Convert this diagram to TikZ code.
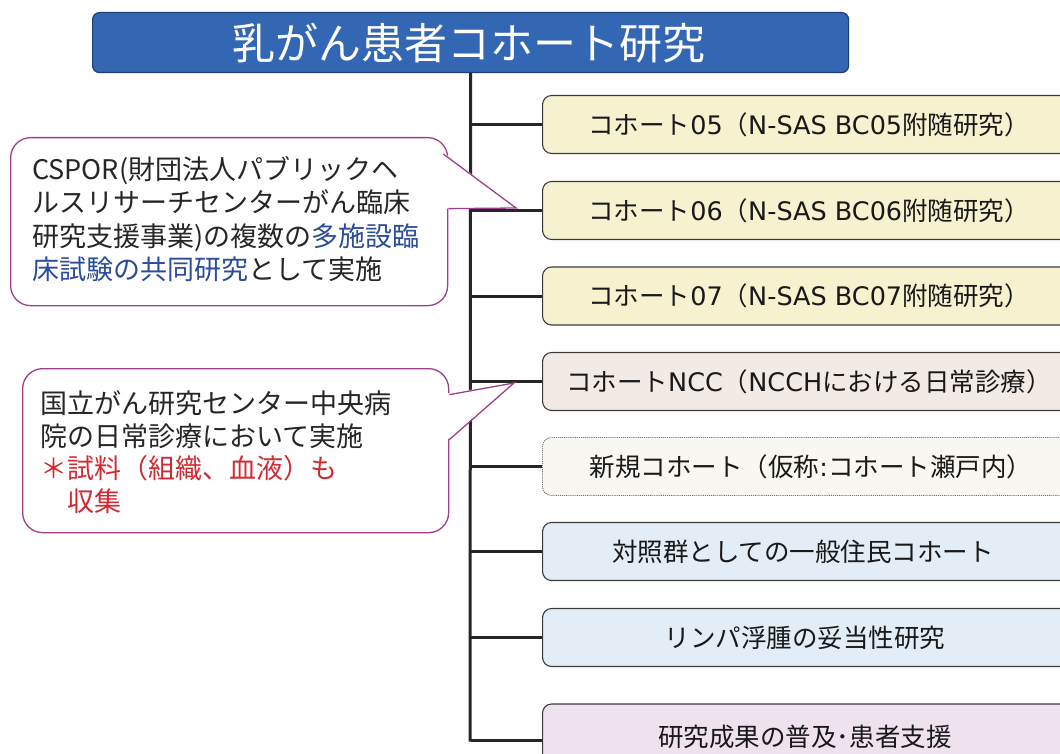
\documentclass[tikz,border=0pt]{standalone}
\usepackage{fontspec}
\setmainfont{Noto Sans CJK JP}
\newfontfamily\lat{DejaVu Sans}
\usetikzlibrary{calc}
\definecolor{titleblue}{HTML}{3467B3}
\definecolor{titleedge}{HTML}{1E3C78}
\definecolor{cyellow}{HTML}{F6F2CF}
\definecolor{cpink}{HTML}{F2EAE5}
\definecolor{cwhite}{HTML}{F8F7F1}
\definecolor{cblue}{HTML}{E2EDF5}
\definecolor{cpurple}{HTML}{EEE2EE}
\definecolor{boxedge}{HTML}{3A3A3A}
\definecolor{calloutedge}{HTML}{9E3F8E}
\definecolor{txtblue}{HTML}{2B4C9B}
\definecolor{txtred}{HTML}{D22A33}
\tikzset{
  titlebox/.style={draw=titleedge, line width=1.2pt, fill=titleblue, rounded corners=7pt,
    text=white, font=\fontsize{43}{43}\selectfont, inner sep=0pt},
  cbox/.style={draw=boxedge, line width=1.1pt, rounded corners=9pt, minimum width=540pt,
    minimum height=58pt, anchor=west, inner sep=0pt},
  ctext/.style={font=\fontsize{25.5}{25.5}\selectfont, text=black!90, inner sep=0pt},
  trunk/.style={line width=3pt, black!85},
  callout/.style={draw=calloutedge, line width=1.3pt, fill=white, rounded corners=20pt, inner sep=0pt},
  cline/.style={draw=calloutedge, line width=1.3pt},
  calltext/.style={font=\fontsize{27}{33.5}\selectfont, align=left, inner sep=0pt, text=black!85, anchor=west}
}
\begin{document}
\begin{tikzpicture}[x=1pt,y=-1pt]
\useasboundingbox (0,0) rectangle (1060,754);
\clip (0,0) rectangle (1060,754);
\fill[white] (0,0) rectangle (1060,754);

% title
\node[titlebox, minimum width=756pt, minimum height=60pt, anchor=north west] (title) at (92,12) {};
\node[text=white, font=\fontsize{43}{43}\selectfont, inner sep=0pt] (titletext) at (469,43) {乳がん患者コホート研究};

% boxes
\node[cbox, fill=cyellow] (b1) at (542,124.5) {};
\node[cbox, fill=cyellow] (b2) at (542,210.5) {};
\node[cbox, fill=cyellow] (b3) at (542,296) {};
\node[cbox, fill=cpink] (b4) at (542,381.5) {};
\node[cbox, fill=cwhite, draw=black!55, densely dotted, line width=0.9pt] (b5) at (542,466.5) {};
\node[cbox, fill=cblue] (b6) at (542,551.5) {};
\node[cbox, fill=cblue] (b7) at (542,637.5) {};
\node[cbox, fill=cpurple, minimum height=72pt] (b8) at (542,740) {};

\node[ctext] (t1) at (809,124.5) {コホート{\lat 05}（{\lat N-SAS BC05}附随研究）};
\node[ctext] (t2) at (809,210.5) {コホート{\lat 06}（{\lat N-SAS BC06}附随研究）};
\node[ctext] (t3) at (809,296) {コホート{\lat 07}（{\lat N-SAS BC07}附随研究）};
\node[ctext] (t4) at (809,381.5) {コホート{\lat NCC}（{\lat NCCH}における日常診療）};
\node[ctext] (t5) at (811,466.5) {新規コホート（仮称{\lat :}コホート瀬戸内）};
\node[ctext] (t6) at (803,551.5) {対照群としての一般住民コホート};
\node[ctext] (t7) at (805,637.5) {リンパ浮腫の妥当性研究};
\node[ctext] (t8) at (805,737) {研究成果の普及･患者支援};

% trunk and branches
\coordinate (bot) at (470,741.5);
\draw[trunk] (title.south) -- (bot);
\foreach \b in {b1,b2,b3,b4,b5,b6,b7,b8} {
  \draw[trunk] (\b.west -| title.south) -- (\b.west);
}

% callout 1
\node[callout, minimum width=437pt, minimum height=168pt, anchor=north west] (c1) at (10,137) {};
\coordinate (tip1) at (516,208);
\fill[white] ($(c1.north east)+(-3,17)$) -- (tip1) -- ($(c1.east)+(-3,-13)$) -- cycle;
\draw[cline] ($(c1.north east)+(-5,17)$) -- (tip1) -- ($(c1.east)+(0,-13)$);
\node[calltext] (ct1) at (32,219) {CSPOR(財団法人パブリックヘ\\ルスリサーチセンターがん臨床\\研究支援事業)の複数の\textcolor{txtblue}{多施設臨}\\\textcolor{txtblue}{床試験の共同研究}として実施};

% callout 2
\node[callout, minimum width=426pt, minimum height=164pt, anchor=north west] (c2) at (22,368) {};
\coordinate (tip2) at (514,383);
\fill[white] ($(c2.east)+(-3,-57)$) -- (tip2) -- ($(c2.east)+(-3,-10)$) -- cycle;
\draw[cline] ($(c2.east)+(0,-56)$) -- (tip2) -- ($(c2.east)+(0,-11)$);
\node[calltext, font=\fontsize{27}{32.5}\selectfont] (ct2) at (40,452) {国立がん研究センター中央病\\院の日常診療において実施\\\textcolor{txtred}{＊試料（組織、血液）も}\\\textcolor{txtred}{\hspace{1em}収集}};
\end{tikzpicture}
\end{document}
